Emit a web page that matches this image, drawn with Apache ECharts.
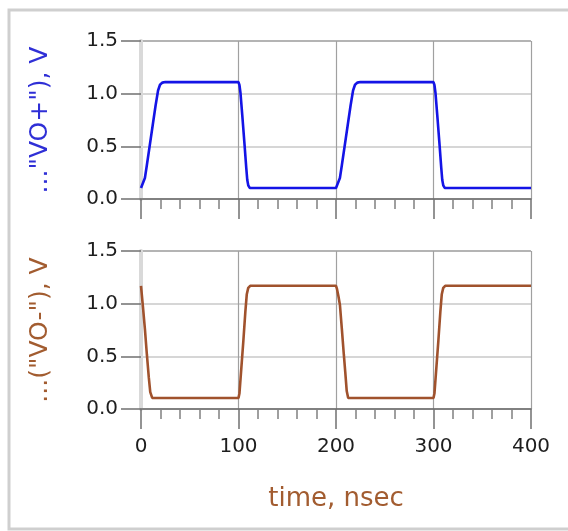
<!DOCTYPE html>
<html>
<head>
<meta charset="utf-8">
<script src="https://cdn.jsdelivr.net/npm/echarts@6/dist/echarts.min.js"></script>
<style>
html,body{margin:0;padding:0;background:#fff;}
#chart{width:568px;height:531px;}
</style>
</head>
<body>
<div id="chart"></div>
<script>
// ---- data ----
var xTicks = [0, 100, 200, 300, 400];
var yTicks = [0.0, 0.5, 1.0, 1.5];
var xTitle = 'time, nsec';
var topTitle = '..."VO+"), V';
var bottomTitle = '...("VO-"), V';

var voPlusTime = [0, 2, 4, 6, 9, 12, 15, 17.5, 19.5, 22, 25, 100, 101, 102, 104, 106, 108, 109, 110, 111.5,
  200, 202, 204, 206, 209, 212, 215, 217.5, 219.5, 222, 225, 300, 301, 302, 304, 306, 308, 309, 310, 311.5, 400];
var voPlusValue = [0.105, 0.115, 0.20, 0.32, 0.51, 0.70, 0.89, 1.03, 1.085, 1.105, 1.11, 1.11, 1.08, 1.01, 0.78, 0.54, 0.29, 0.18, 0.13, 0.105,
  0.105, 0.115, 0.20, 0.32, 0.51, 0.70, 0.89, 1.03, 1.085, 1.105, 1.11, 1.11, 1.08, 1.01, 0.78, 0.54, 0.29, 0.18, 0.13, 0.105, 0.105];

var voMinusTime = [0, 2, 4, 6, 8, 9.5, 11.5, 100, 101, 103, 105, 107, 108.5, 110, 112,
  200, 201, 202.5, 204, 206, 208, 209.5, 211, 212.5, 300, 301, 303, 305, 307, 308.5, 310, 312, 400];
var voMinusValue = [1.17, 0.97, 0.76, 0.52, 0.30, 0.16, 0.105, 0.105, 0.15, 0.40, 0.65, 0.92, 1.09, 1.15, 1.17,
  1.17, 1.14, 1.07, 0.99, 0.76, 0.52, 0.35, 0.17, 0.105, 0.105, 0.15, 0.40, 0.65, 0.92, 1.09, 1.15, 1.17, 1.17];

function pairs(t, v) { var out = []; for (var i = 0; i < t.length; i++) out.push([t[i], v[i]]); return out; }

var FONT = 'DejaVu Sans';
var blue = '#1414e6', blueText = '#2f2fd6';
var brown = '#a0522d', brownText = '#a25c30';

function xAxisCfg(idx, showLabels) {
  return {
    type: 'value', gridIndex: idx, min: xTicks[0], max: xTicks[xTicks.length - 1], interval: 100,
    axisLine: { show: true, onZero: false, lineStyle: { color: '#666', width: 1.5 } },
    axisTick: { show: true, length: 20, lineStyle: { color: '#707070', width: 1.5 } },
    minorTick: { show: true, splitNumber: 5, length: 10, lineStyle: { color: '#808080', width: 1.5 } },
    splitLine: { show: true, lineStyle: { color: '#a0a0a0', width: 1.2 } },
    axisLabel: { show: showLabels, margin: 28, color: '#1e1e1e', fontFamily: FONT, fontSize: 20 },
    name: showLabels ? xTitle : '', nameLocation: 'middle', nameGap: 77,
    nameTextStyle: { color: brownText, fontFamily: FONT, fontSize: 26 }
  };
}
function yAxisCfg(idx, title, color) {
  return {
    type: 'value', gridIndex: idx, min: yTicks[0], max: yTicks[yTicks.length - 1], interval: 0.5,
    axisLine: { show: true, lineStyle: { color: '#d9d9d9', width: 4 } },
    axisTick: { show: true, length: 20, lineStyle: { color: '#707070', width: 1.5 } },
    splitLine: { show: true, lineStyle: { color: ['#d6d6d6', '#d6d6d6', '#d6d6d6', '#b4b4b4'], width: 2 } },
    axisLabel: { margin: 23, color: '#1e1e1e', fontFamily: FONT, fontSize: 20,
      formatter: function (v) { return v.toFixed(1); } },
    name: title, nameLocation: 'middle', nameGap: 88,
    nameTextStyle: { color: color, fontFamily: FONT, fontSize: 25 }
  };
}

var chart = echarts.init(document.getElementById('chart'), null, { renderer: 'canvas' });
chart.setOption({
  animation: false,
  backgroundColor: '#fff',
  graphic: [{
    type: 'rect', shape: { x: 9, y: 10, width: 580, height: 519 },
    style: { fill: 'none', stroke: '#cfcfcf', lineWidth: 3 }, z: -10
  }],
  grid: [
    { left: 141, right: 37, top: 41, height: 158 },
    { left: 141, right: 37, top: 251, height: 158 }
  ],
  xAxis: [xAxisCfg(0, false), xAxisCfg(1, true)],
  yAxis: [yAxisCfg(0, topTitle, blueText), yAxisCfg(1, bottomTitle, brownText)],
  series: [
    { type: 'line', xAxisIndex: 0, yAxisIndex: 0, data: pairs(voPlusTime, voPlusValue),
      showSymbol: false, lineStyle: { color: blue, width: 2.6 }, z: 5 },
    { type: 'line', xAxisIndex: 1, yAxisIndex: 1, data: pairs(voMinusTime, voMinusValue),
      showSymbol: false, lineStyle: { color: brown, width: 2.6 }, z: 5 }
  ]
});
</script>
</body>
</html>
